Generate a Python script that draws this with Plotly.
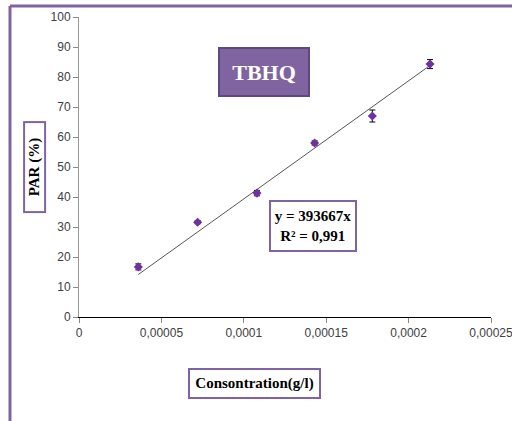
import plotly.graph_objects as go

conc = [3.6e-5, 7.2e-5, 1.08e-4, 1.43e-4, 1.78e-4, 2.13e-4]
par = [16.7, 31.6, 41.3, 58.0, 67.0, 84.3]
err = [1.0, 0.5, 0.9, 0.7, 2.0, 1.5]
slope = 393667
x_ticks = [0, 0.00005, 0.0001, 0.00015, 0.0002, 0.00025]
x_tick_text = ["0", "0,00005", "0,0001", "0,00015", "0,0002", "0,00025"]
y_ticks = list(range(0, 101, 10))

purple = "#8064A2"
tick_font = dict(family="Liberation Sans Narrow, Liberation Sans, Arial", size=12, color="#404040")
serif_b = "Liberation Serif"

fig = go.Figure()
fig.add_trace(go.Scatter(
    x=[conc[0], conc[-1]], y=[slope * conc[0], slope * conc[-1]],
    mode="lines", line=dict(color="#555555", width=1), hoverinfo="skip", showlegend=False))
fig.add_trace(go.Scatter(
    x=conc, y=par, mode="markers",
    marker=dict(symbol="diamond", size=7, color="#7030A0"),
    error_y=dict(type="data", array=err, color="#000000", thickness=1, width=3),
    showlegend=False))

fig.update_layout(
    width=512, height=421,
    margin=dict(l=79, r=21, t=17, b=104),
    paper_bgcolor="white", plot_bgcolor="white",
    xaxis=dict(range=[0, 0.00025000001], tickvals=x_ticks, ticktext=x_tick_text,
               ticklabeloverflow="allow", automargin=False,
               showgrid=False, zeroline=False, showline=True, linecolor="#000000", linewidth=1,
               ticks="outside", ticklen=5, tickcolor="#888888", tickfont=tick_font),
    yaxis=dict(range=[0, 100], tickvals=y_ticks, showgrid=False, zeroline=False,
               automargin=False,
               showline=True, linecolor="#999999", linewidth=1,
               ticks="outside", ticklen=5, tickcolor="#888888", tickfont=tick_font),
    shapes=[
        dict(type="line", xref="paper", yref="paper", x0=-0.1675, x1=1.06, y0=1.0367, y1=1.0367,
             line=dict(color=purple, width=3)),
        dict(type="line", xref="paper", yref="paper", x0=-0.1675, x1=-0.1675, y0=1.0367, y1=-0.36,
             line=dict(color=purple, width=3)),
    ],
    annotations=[
        dict(text="<b>TBHQ</b>", xref="paper", yref="paper", x=0.449, y=0.817,
             xanchor="center", yanchor="middle",
             showarrow=False, font=dict(family=serif_b, size=22, color="white"),
             bgcolor=purple, bordercolor="#5F4B7B", borderwidth=2, width=86, height=44),
        dict(text="<b>y = 393667x<br>R² = 0,991</b>", x=0.000142, y=30.3,
             xanchor="center", yanchor="middle",
             showarrow=False, font=dict(family=serif_b, size=15, color="black"),
             bgcolor="white", bordercolor=purple, borderwidth=2, width=82, height=46),
        dict(text="<b>Consontration(g/l)</b>", xref="paper", yref="paper", x=0.427, y=-0.223,
             xanchor="center", yanchor="middle",
             showarrow=False, font=dict(family=serif_b, size=15, color="black"),
             bgcolor="white", bordercolor=purple, borderwidth=2, width=127, height=25),
        dict(text="<b>PAR (%)</b>", xref="paper", yref="paper", x=-0.109, y=0.5,
             xanchor="center", yanchor="middle",
             showarrow=False, textangle=-90, font=dict(family=serif_b, size=15, color="black"),
             bgcolor="white", bordercolor=purple, borderwidth=2, width=86, height=17),
    ],
)

fig.write_html("out.html")
